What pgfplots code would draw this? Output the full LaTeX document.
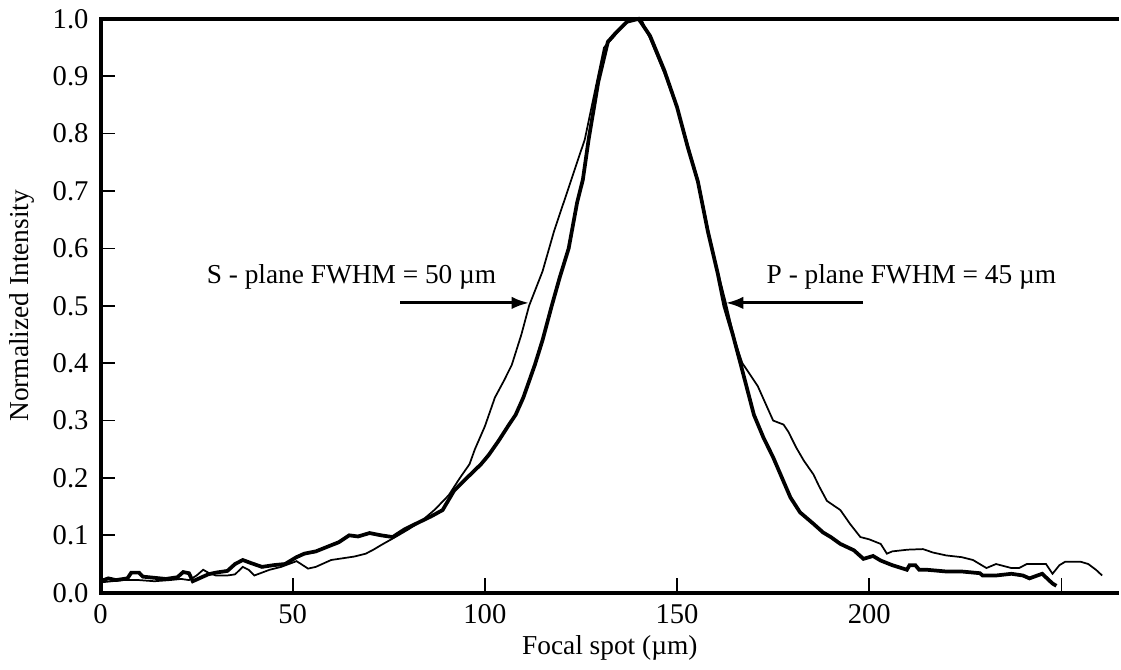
\documentclass[border=0pt]{standalone}
\usepackage{fontspec}
\setmainfont{Liberation Serif}
\usepackage{pgfplots}
\pgfplotsset{compat=1.18}
\usetikzlibrary{arrows.meta}
\begin{document}
\fontsize{11pt}{13pt}\selectfont
\begin{tikzpicture}
\begin{axis}[
  scale only axis,
  width=409.6pt, height=230.8pt,
  xmin=0, xmax=265, ymin=0, ymax=1,
  xtick={0,50,100,150,200,250},
  xticklabels={0,50,100,150,200,},
  ytick={0,0.1,...,1.0},
  yticklabel style={xshift=-1pt, /pgf/number format/.cd,fixed,fixed zerofill,precision=1},
  /pgf/number format/assume math mode=true,
  tick align=inside, tick pos=left,
  major tick length=6pt,
  tick style={black, line width=0.7pt},
  axis line style={draw=none},
  xlabel={Focal spot (µm)},
  ylabel={Normalized Intensity},
  xlabel style={yshift=3pt},
  xticklabel style={yshift=-1pt},
  every tick label/.append style={font=\fontsize{11.5pt}{13pt}\selectfont},
  clip=false,
]
\draw[line width=1.6pt] (rel axis cs:1.0,1) -- (rel axis cs:0,1) -- (rel axis cs:0,0) -- (rel axis cs:1.0,0);
% S-plane (thin)
\addplot[black, line width=0.7pt] coordinates {
(0,0.018) (3,0.02) (6,0.022) (10,0.022) (14,0.02) (18,0.022) (21,0.024) (23,0.022) (25,0.03) (26.7,0.04) (28,0.035) (30,0.03) (33,0.03) (35,0.032) (37,0.045) (38.5,0.04) (40,0.03) (42,0.035) (44,0.04) (47,0.045) (51,0.055) (54,0.042) (56,0.045) (60,0.057) (63,0.06) (66,0.063) (69,0.068) (71,0.075) (73,0.083) (76.7,0.097) (80,0.11) (83.7,0.126) (87,0.145) (90.6,0.17) (93.5,0.2) (96,0.224) (97.4,0.25) (100,0.29) (102.6,0.34) (105,0.37) (107,0.397) (109.5,0.45) (111.5,0.50) (115,0.56) (118,0.63) (121,0.69) (123,0.73) (126,0.79) (128.5,0.87) (131,0.95) (133.7,0.97) (136,0.99) (139,1.0) (141,0.995) (143,0.965) (146.7,0.905) (150,0.845) (152.8,0.78) (155.4,0.72) (158,0.635) (160.6,0.56) (162.7,0.505) (165,0.44) (167,0.40) (169,0.38) (171,0.36) (173,0.33) (175,0.30) (177.7,0.293) (179,0.28) (181,0.253) (183,0.23) (185.5,0.206) (187,0.185) (189,0.16) (192.5,0.144) (195,0.12) (197.7,0.097) (200,0.093) (203,0.085) (204.6,0.068) (206,0.072) (210,0.075) (214,0.076) (216.6,0.07) (220,0.065) (224,0.062) (227,0.057) (230.5,0.043) (233,0.05) (237,0.043) (239,0.043) (241,0.05) (246,0.05) (247.7,0.033) (249.5,0.048) (251,0.054) (255,0.054) (257,0.05) (259,0.04) (260.6,0.03)
};
% P-plane (thick)
\addplot[black, line width=1.5pt] coordinates {
(0,0.02) (2,0.025) (4,0.022) (7,0.025) (8,0.035) (10,0.035) (11,0.028) (14,0.026) (17,0.024) (20,0.027) (21.5,0.036) (23,0.034) (24,0.02) (26,0.026) (28,0.032) (30,0.035) (33,0.038) (35,0.05) (37,0.057) (39,0.052) (42,0.045) (45,0.048) (48,0.05) (51,0.062) (53,0.068) (56,0.072) (59,0.08) (62,0.088) (64.7,0.10) (67,0.098) (70,0.104) (73,0.10) (76,0.097) (79,0.11) (82,0.12) (86,0.133) (89,0.144) (92,0.178) (95,0.198) (99,0.224) (101,0.24) (103.6,0.265) (106,0.29) (108,0.31) (110,0.34) (113,0.397) (115,0.44) (117.4,0.50) (119.5,0.55) (121.8,0.60) (124,0.68) (125.5,0.72) (127,0.79) (129.5,0.89) (132,0.96) (134,0.975) (137,0.995) (140,1.0) (143,0.97) (146.7,0.91) (150,0.846) (152.8,0.776) (155.4,0.717) (158,0.63) (160.6,0.556) (162.3,0.50) (164.5,0.45) (166.6,0.397) (170,0.31) (172.5,0.27) (175,0.236) (179.5,0.166) (182,0.14) (185.5,0.12) (188,0.105) (190,0.097) (192.5,0.085) (196,0.074) (198.5,0.059) (201,0.064) (203,0.056) (206,0.048) (209.8,0.04) (210.5,0.048) (212,0.048) (213,0.04) (215,0.04) (220,0.037) (224,0.037) (228.8,0.034) (229.5,0.03) (233,0.03) (237,0.033) (240,0.03) (241.7,0.025) (245,0.033) (247.7,0.016) (248.7,0.012)
};
\node at (axis cs:65.3,0.551) {S - plane FWHM = 50 µm};
\draw[line width=1.2pt, -{Latex[length=7pt,width=5pt]}] (axis cs:78,0.505) -- (axis cs:111.5,0.505);
\node at (axis cs:211,0.551) {P - plane FWHM = 45 µm};
\draw[line width=1.2pt, -{Latex[length=7pt,width=5pt]}] (axis cs:198.4,0.505) -- (axis cs:162.7,0.505);
\end{axis}
\end{tikzpicture}
\end{document}
